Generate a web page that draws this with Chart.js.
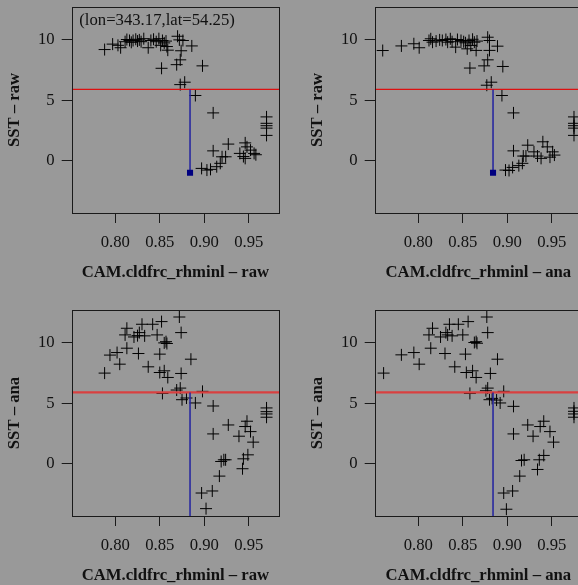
<!DOCTYPE html>
<html><head><meta charset="utf-8">
<script src="https://cdn.jsdelivr.net/npm/chart.js@4/dist/chart.umd.min.js"></script>
<style>
html,body{margin:0;padding:0;background:#999999;width:578px;height:585px;overflow:hidden;}
#wrap{position:relative;width:578px;height:585px;overflow:hidden;background:#999999;}
canvas{position:absolute;}
</style></head><body>
<div id="wrap">
<canvas id="c1" width="303" height="300" style="left:0px;top:0px"></canvas>
<canvas id="c2" width="303" height="300" style="left:303px;top:0px"></canvas>
<canvas id="c3" width="303" height="300" style="left:0px;top:303px"></canvas>
<canvas id="c4" width="303" height="300" style="left:303px;top:303px"></canvas>
</div>
<script>
// ---- axis ticks ----
const xTickVals = [0.80, 0.85, 0.90, 0.95];
const xTickLabels = ['0.80', '0.85', '0.90', '0.95'];
const yTickVals = [0, 5, 10];
const yTickLabels = ['0', '5', '10'];
const xRange = [0.751, 0.984];
const yRange = [-4.32, 12.72];

// ---- reference values ----
const refSST = 5.9;            // horizontal reference line
const selX = 0.884;            // selected point, CAM.cldfrc_rhminl
const selSSTraw = -0.99;       // selected point, SST raw
const selSSTana = -5.0;        // selected point, SST ana (below plotted range)
const locationNote = '(lon=343.17,lat=54.25)';

// ---- panel 1: CAM raw vs SST raw ----
const p1X = [0.788,0.797,0.803,0.806,0.811,0.813,0.816,0.818,0.820,0.823,0.825,0.827,0.829,0.832,0.837,0.840,0.843,0.846,0.849,0.851,0.853,0.855,0.857,0.858,0.859,0.870,0.872,0.876,0.874,0.886,0.873,0.869,0.852,0.898,
  0.873,0.878,0.890,0.910,
  0.970,0.970,0.970,0.970,0.970,
  0.910,0.927,0.946,0.948,0.940,0.946,0.952,0.956,0.958,0.920,0.924,0.918,0.914,0.897,0.903,0.907,0.944];
const p1Y = [9.2,9.65,9.55,9.35,9.85,10.03,9.95,9.8,9.95,10.05,9.9,10.0,9.85,10.1,9.35,9.95,10.05,9.85,10.1,9.55,9.95,9.75,9.9,9.45,9.15,10.3,10.0,9.95,9.1,9.5,8.35,7.95,7.65,7.85,
  6.3,6.5,5.4,3.96,
  3.63,3.1,2.9,2.7,2.1,
  0.82,1.38,1.48,1.15,0.61,0.20,0.88,0.61,0.5,0.33,0.33,-0.21,-0.49,-0.63,-0.77,-0.71,0.35];

// ---- panel 2: CAM ana vs SST raw ----
const p2X = [0.760,0.781,0.795,0.801,0.812,0.814,0.816,0.820,0.824,0.827,0.831,0.833,0.836,0.838,0.842,0.844,0.848,0.851,0.853,0.855,0.857,0.859,0.861,0.863,0.865,0.866,0.878,0.880,0.880,0.889,0.878,0.874,0.858,0.895,
  0.877,0.882,0.894,0.907,
  0.975,0.975,0.975,0.975,0.975,
  0.907,0.923,0.940,0.945,0.930,0.951,0.934,0.938,0.953,0.918,0.921,0.917,0.913,0.898,0.902,0.906,0.948];
const p2Y = [9.12,9.5,9.68,9.35,9.95,10.09,9.81,9.9,10.0,9.95,10.03,9.81,10.09,9.85,9.4,10.03,9.95,9.85,9.76,9.26,9.95,9.54,10.05,9.81,9.13,9.9,10.22,9.95,9.13,9.48,8.35,7.85,7.67,7.8,
  6.25,6.5,5.4,3.96,
  3.63,3.1,2.9,2.7,2.1,
  0.82,1.29,1.57,1.15,0.74,0.74,0.39,0.2,0.47,0.39,0.39,-0.21,-0.4,-0.77,-0.8,-0.55,0.3];

// ---- panel 3: CAM raw vs SST ana ----
const p3X = [0.788,0.794,0.802,0.805,0.813,0.811,0.813,0.821,0.825,0.827,0.830,0.833,0.826,0.837,0.842,0.847,0.852,0.850,0.850,0.855,0.855,0.857,0.858,0.859,0.872,0.874,0.874,0.885,
  0.853,0.869,0.873,0.875,0.880,0.890,0.898,0.910,
  0.910,0.927,0.939,0.946,0.948,0.952,0.955,0.970,0.970,0.970,0.970,
  0.919,0.922,0.924,0.917,0.944,0.949,0.943,0.897,0.909,0.902];
const p3Y = [7.5,8.99,9.2,8.24,11.21,10.66,9.56,10.49,10.6,10.85,11.54,10.58,9.12,8.02,11.54,10.66,11.76,9.07,7.55,7.69,10.0,10.1,9.95,7.14,12.14,10.85,7.47,8.65,
  5.82,6.10,6.26,5.30,5.44,5.03,5.99,4.78,
  2.47,3.21,2.28,3.08,3.52,2.66,1.79,4.62,4.31,4.12,3.85,
  0.19,0.33,0.33,-1.02,0.41,0.74,-0.41,-2.42,-2.25,-3.71];

// ---- panel 4: CAM ana vs SST ana ----
const p4X = [0.761,0.781,0.795,0.801,0.816,0.812,0.814,0.825,0.831,0.833,0.835,0.838,0.830,0.841,0.845,0.850,0.856,0.853,0.854,0.861,0.863,0.865,0.866,0.865,0.877,0.878,0.881,0.889,
  0.858,0.876,0.878,0.880,0.883,0.888,0.892,0.896,0.907,
  0.907,0.923,0.929,0.937,0.941,0.948,0.952,0.975,0.975,0.975,0.975,
  0.916,0.919,0.914,0.934,0.936,0.941,0.896,0.906,0.899];
const p4Y = [7.5,9.01,9.2,8.24,11.21,10.66,9.56,10.49,10.85,10.66,11.54,10.58,9.12,8.02,11.54,10.66,11.76,9.07,7.55,7.69,10.03,10.1,9.97,7.14,12.14,10.85,7.47,8.65,
  5.82,6.04,6.26,5.30,5.41,5.27,5.03,5.99,4.75,
  2.47,3.21,2.28,3.08,3.52,2.66,1.79,4.62,4.34,4.12,3.85,
  0.27,0.33,-1.02,-0.47,0.33,0.69,-2.42,-2.25,-3.76];

const FONT = "'Liberation Serif','Times New Roman',serif";
const FS = 16.7;
const TXT = '#111111';

const boxPlugin = {
  id: 'box',
  afterDraw(chart) {
    const a = chart.chartArea, ctx = chart.ctx;
    ctx.save();
    ctx.strokeStyle = '#1a1a1a';
    ctx.lineWidth = 1;
    ctx.strokeRect(Math.round(a.left) + 0.5, Math.round(a.top) + 0.5, Math.round(a.right - a.left), Math.round(a.bottom - a.top));
    const note = chart.options.plugins.box && chart.options.plugins.box.note;
    if (note) {
      ctx.fillStyle = TXT;
      ctx.font = FS + 'px ' + FONT;
      ctx.textBaseline = 'middle';
      ctx.textAlign = 'left';
      ctx.fillText(note, a.left + 7.6, a.top + 14);
    }
    ctx.restore();
  }
};

function makePanel(id, xs, ys, selY, xTitle, yTitle, refColor, refWidth, note) {
  const pts = xs.map((x, i) => ({x: x, y: ys[i]}));
  new Chart(document.getElementById(id), {
    type: 'scatter',
    data: {
      datasets: [
        {data: [{x: selX, y: selY}], pointStyle: 'rect', pointRadius: 4.3, backgroundColor: '#000080', borderColor: '#000080', borderWidth: 0, order: 0},
        {type: 'line', data: [{x: selX, y: selY}, {x: selX, y: refSST}], borderColor: '#2222a0', borderWidth: 1.5, pointRadius: 0, order: 1},
        {type: 'line', data: [{x: xRange[0], y: refSST}, {x: xRange[1], y: refSST}], borderColor: refColor, borderWidth: refWidth, pointRadius: 0, order: 2},
        {data: pts, pointStyle: 'cross', pointRadius: 6, borderColor: '#000000', backgroundColor: '#000000', borderWidth: 1, order: 3}
      ]
    },
    options: {
      responsive: false, animation: false, events: [],
      layout: {padding: {top: 6, right: 24, bottom: 0, left: 0}},
      plugins: {legend: {display: false}, tooltip: {enabled: false}, box: {note: note}},
      scales: {
        x: {
          type: 'linear', min: xRange[0], max: xRange[1],
          afterBuildTicks: s => { s.ticks = xTickVals.map(v => ({value: v})); },
          afterFit: s => { s.height = 87; s.paddingLeft = 0; s.paddingRight = 0; },
          ticks: {callback: (v, i) => xTickLabels[i], font: {family: FONT, size: FS}, color: TXT, padding: 10, maxRotation: 0, autoSkip: false},
          grid: {drawOnChartArea: false, drawTicks: true, tickLength: 10, color: '#1a1a1a', lineWidth: 1},
          border: {display: false},
          title: {display: true, text: xTitle, color: TXT, font: {family: FONT, size: FS, weight: 'bold'}, padding: {top: 0, bottom: 17.3}}
        },
        y: {
          type: 'linear', min: yRange[0], max: yRange[1],
          afterBuildTicks: s => { s.ticks = yTickVals.map(v => ({value: v})); },
          afterFit: s => { s.width = 71.7; s.paddingTop = 0; s.paddingBottom = 0; },
          ticks: {callback: (v, i) => yTickLabels[i], font: {family: FONT, size: FS}, color: TXT, padding: 7, autoSkip: false},
          grid: {drawOnChartArea: false, drawTicks: true, tickLength: 10, color: '#1a1a1a', lineWidth: 1},
          border: {display: false},
          title: {display: true, text: yTitle, color: TXT, font: {family: FONT, size: FS, weight: 'bold'}, padding: {top: 5, bottom: 0}}
        }
      }
    },
    plugins: [boxPlugin]
  });
}

makePanel('c1', p1X, p1Y, selSSTraw, 'CAM.cldfrc_rhminl \u2013 raw', 'SST \u2013 raw', '#dd1111', 1.3, locationNote);
makePanel('c2', p2X, p2Y, selSSTraw, 'CAM.cldfrc_rhminl \u2013 ana', 'SST \u2013 raw', '#dd1111', 1.3, null);
makePanel('c3', p3X, p3Y, selSSTana, 'CAM.cldfrc_rhminl \u2013 raw', 'SST \u2013 ana', '#d94040', 2.2, null);
makePanel('c4', p4X, p4Y, selSSTana, 'CAM.cldfrc_rhminl \u2013 ana', 'SST \u2013 ana', '#d94040', 2.2, null);
</script>
</body></html>
